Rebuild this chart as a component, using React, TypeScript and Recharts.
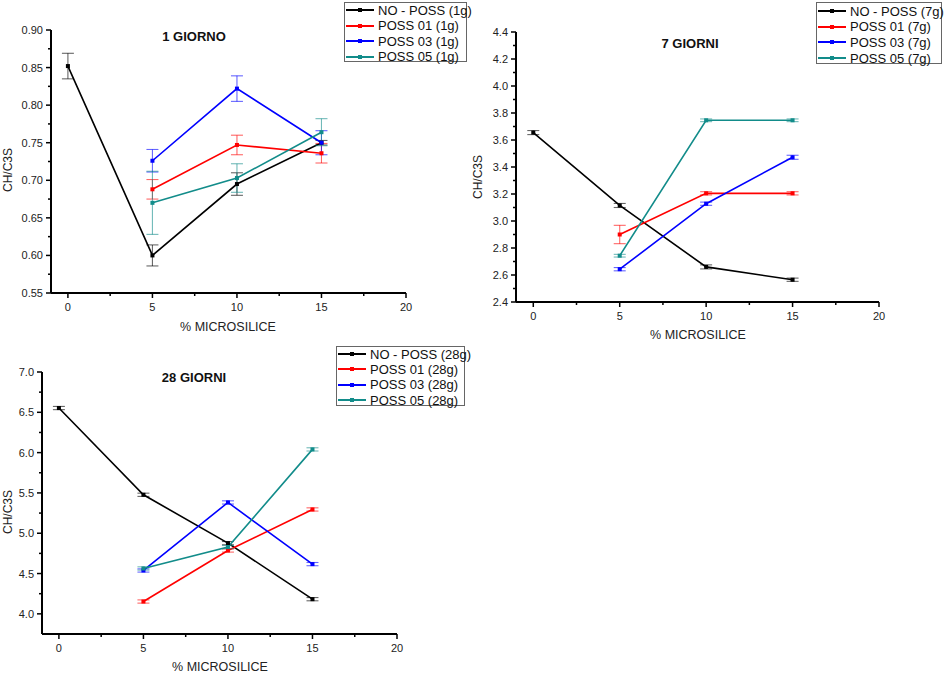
import { LineChart, Line, XAxis, YAxis, ErrorBar } from 'recharts'

const FONT = '"Liberation Sans", Arial, sans-serif'

// asse x comune
const xNoPoss = [0, 5, 10, 15]
const xPoss = [5, 10, 15]
const xTicks = [0, 5, 10, 15, 20]
const xMinorTicks = [2.5, 7.5, 12.5, 17.5]

const seriesNames = ['NO - POSS', 'POSS 01', 'POSS 03', 'POSS 05']
const seriesColors = ['#000000', '#ff0000', '#0000ff', '#128c8a']

// 1 giorno
const g1NoPoss = [0.852, 0.600, 0.695, 0.750]
const g1NoPossErr = [0.017, 0.014, 0.015, 0.003]
const g1Poss01 = [0.688, 0.747, 0.736]
const g1Poss01Err = [0.013, 0.013, 0.013]
const g1Poss03 = [0.726, 0.822, 0.750]
const g1Poss03Err = [0.015, 0.017, 0.016]
const g1Poss05 = [0.670, 0.703, 0.764]
const g1Poss05Err = [0.042, 0.019, 0.018]
const g1YTicks = [0.55, 0.60, 0.65, 0.70, 0.75, 0.80, 0.85, 0.90]
const g1YMinor = [0.575, 0.625, 0.675, 0.725, 0.775, 0.825, 0.875]

// 7 giorni
const g7NoPoss = [3.655, 3.115, 2.660, 2.565]
const g7NoPossErr = [0.015, 0.015, 0.015, 0.012]
const g7Poss01 = [2.900, 3.205, 3.205]
const g7Poss01Err = [0.068, 0.012, 0.012]
const g7Poss03 = [2.643, 3.128, 3.472]
const g7Poss03Err = [0.012, 0.012, 0.015]
const g7Poss05 = [2.743, 3.746, 3.746]
const g7Poss05Err = [0.010, 0.010, 0.010]
const g7YTicks = [2.4, 2.6, 2.8, 3.0, 3.2, 3.4, 3.6, 3.8, 4.0, 4.2, 4.4]
const g7YMinor = [2.5, 2.7, 2.9, 3.1, 3.3, 3.5, 3.7, 3.9, 4.1, 4.3]

// 28 giorni
const g28NoPoss = [6.553, 5.477, 4.877, 4.182]
const g28NoPossErr = [0.02, 0.02, 0.02, 0.02]
const g28Poss01 = [4.153, 4.786, 5.295]
const g28Poss01Err = [0.02, 0.02, 0.02]
const g28Poss03 = [4.538, 5.382, 4.617]
const g28Poss03Err = [0.02, 0.02, 0.02]
const g28Poss05 = [4.563, 4.828, 6.040]
const g28Poss05Err = [0.02, 0.02, 0.02]
const g28YTicks = [4.0, 4.5, 5.0, 5.5, 6.0, 6.5, 7.0]
const g28YMinor = [4.25, 4.75, 5.25, 5.75, 6.25, 6.75]

const toPoints = (xs: number[], ys: number[], es: number[]) =>
    xs.map((x, i) => ({ x, y: ys[i], e: es[i] }))

const panels = [
    {
        suffix: '1g', title: '1 GIORNO',
        left: 0, top: 0, width: 470, height: 340,
        yAxisWidth: 51, marginTop: 30, marginRight: 64, xAxisHeight: 47,
        yDomain: [0.55, 0.90], yTicks: g1YTicks, yMinor: g1YMinor, decimals: 2,
        series: [
            toPoints(xNoPoss, g1NoPoss, g1NoPossErr),
            toPoints(xPoss, g1Poss01, g1Poss01Err),
            toPoints(xPoss, g1Poss03, g1Poss03Err),
            toPoints(xPoss, g1Poss05, g1Poss05Err),
        ],
        titlePos: [194, 36], xLabelPos: [228, 327], yLabelPos: [8, 170],
        legend: { left: 344, top: 2, width: 123, height: 60, first: 7, step: 15.5 },
    },
    {
        suffix: '7g', title: '7 GIORNI',
        left: 470, top: 0, width: 474, height: 345,
        yAxisWidth: 46, marginTop: 32, marginRight: 65, xAxisHeight: 43,
        yDomain: [2.4, 4.4], yTicks: g7YTicks, yMinor: g7YMinor, decimals: 1,
        series: [
            toPoints(xNoPoss, g7NoPoss, g7NoPossErr),
            toPoints(xPoss, g7Poss01, g7Poss01Err),
            toPoints(xPoss, g7Poss03, g7Poss03Err),
            toPoints(xPoss, g7Poss05, g7Poss05Err),
        ],
        titlePos: [690, 43], xLabelPos: [698, 335], yLabelPos: [478, 177],
        legend: { left: 816, top: 2, width: 126, height: 62, first: 8, step: 15.7 },
    },
    {
        suffix: '28g', title: '28 GIORNI',
        left: 0, top: 340, width: 480, height: 337,
        yAxisWidth: 42, marginTop: 32, marginRight: 83, xAxisHeight: 43,
        yDomain: [3.75, 7.0], yTicks: g28YTicks, yMinor: g28YMinor, decimals: 1,
        series: [
            toPoints(xNoPoss, g28NoPoss, g28NoPossErr),
            toPoints(xPoss, g28Poss01, g28Poss01Err),
            toPoints(xPoss, g28Poss03, g28Poss03Err),
            toPoints(xPoss, g28Poss05, g28Poss05Err),
        ],
        titlePos: [194, 377], xLabelPos: [220, 667], yLabelPos: [8, 512],
        legend: { left: 336, top: 346, width: 129, height: 60, first: 7, step: 15.4 },
    },
]

const XTick = (props: any) => {
    const { x, y, payload } = props
    const major = xTicks.includes(payload.value)
    return (
        <g>
            <line x1={x} x2={x} y1={y} y2={y + (major ? 5 : 3)} stroke="#000" strokeWidth={1.5} />
            {major && (
                <text x={x} y={y + 18} textAnchor="middle" fontSize={11} fill="#222" fontFamily={FONT}>
                    {payload.value}
                </text>
            )}
        </g>
    )
}

const makeYTick = (majors: number[], decimals: number) => (props: any) => {
    const { x, y, payload } = props
    const major = majors.includes(payload.value)
    return (
        <g>
            <line x1={x} x2={x - (major ? 5 : 3)} y1={y} y2={y} stroke="#000" strokeWidth={1.5} />
            {major && (
                <text x={x - 8} y={y + 4} textAnchor="end" fontSize={11} fill="#222" fontFamily={FONT}>
                    {payload.value.toFixed(decimals)}
                </text>
            )}
        </g>
    )
}

const squareDot = (color: string) => (p: any) => (
    <rect key={`d-${p.index}`} x={p.cx - 2} y={p.cy - 2} width={4} height={4} fill={color} />
)

function Panel({ cfg }: { cfg: any }) {
    const yTicksAll = [...cfg.yTicks, ...cfg.yMinor].sort((a, b) => a - b)
    const xTicksAll = [...xTicks, ...xMinorTicks].sort((a, b) => a - b)
    return (
        <>
            <div style={{ position: 'absolute', left: cfg.left, top: cfg.top }}>
                <LineChart
                    width={cfg.width}
                    height={cfg.height}
                    margin={{ top: cfg.marginTop, right: cfg.marginRight, bottom: 0, left: 0 }}
                >
                    <XAxis
                        dataKey="x"
                        type="number"
                        domain={[-1, 20]}
                        ticks={xTicksAll}
                        interval={0}
                        tickSize={0}
                        tickMargin={0}
                        height={cfg.xAxisHeight}
                        axisLine={{ stroke: '#000', strokeWidth: 2 }}
                        tick={XTick}
                        allowDataOverflow
                    />
                    <YAxis
                        type="number"
                        domain={cfg.yDomain}
                        ticks={yTicksAll}
                        interval={0}
                        tickSize={0}
                        tickMargin={0}
                        width={cfg.yAxisWidth}
                        axisLine={{ stroke: '#000', strokeWidth: 2 }}
                        tick={makeYTick(cfg.yTicks, cfg.decimals)}
                        allowDataOverflow
                    />
                    {cfg.series.map((pts: any[], i: number) => (
                        <Line
                            key={i}
                            data={pts}
                            dataKey="y"
                            stroke={seriesColors[i]}
                            strokeWidth={1.6}
                            dot={squareDot(seriesColors[i])}
                            activeDot={false}
                            isAnimationActive={false}
                        >
                            <ErrorBar dataKey="e" width={6} stroke={seriesColors[i]} strokeOpacity={0.6} strokeWidth={1.1} />
                        </Line>
                    ))}
                </LineChart>
            </div>
            <div
                style={{
                    position: 'absolute', left: cfg.titlePos[0], top: cfg.titlePos[1],
                    transform: 'translate(-50%, -50%)', fontWeight: 'bold', fontSize: 13, whiteSpace: 'nowrap', color: '#111',
                }}
            >
                {cfg.title}
            </div>
            <div
                style={{
                    position: 'absolute', left: cfg.xLabelPos[0], top: cfg.xLabelPos[1],
                    transform: 'translate(-50%, -50%)', fontSize: 12.5, whiteSpace: 'nowrap', color: '#222',
                }}
            >
                % MICROSILICE
            </div>
            <div
                style={{
                    position: 'absolute', left: cfg.yLabelPos[0], top: cfg.yLabelPos[1],
                    transform: 'translate(-50%, -50%) rotate(-90deg)', fontSize: 12, whiteSpace: 'nowrap', color: '#222',
                }}
            >
                CH/C3S
            </div>
            {/* legenda */}
            <div
                style={{
                    position: 'absolute', left: cfg.legend.left, top: cfg.legend.top,
                    width: cfg.legend.width, height: cfg.legend.height,
                    border: '1px solid #666', boxSizing: 'border-box', background: '#fff',
                }}
            >
                {seriesNames.map((name, i) => (
                    <div
                        key={name}
                        style={{
                            position: 'absolute', left: 1, top: cfg.legend.first + i * cfg.legend.step - 7,
                            height: 14, display: 'flex', alignItems: 'center', whiteSpace: 'nowrap',
                        }}
                    >
                        <svg width={28} height={8}>
                            <line x1={0} x2={28} y1={4} y2={4} stroke={seriesColors[i]} strokeWidth={2} />
                            <rect x={12} y={2} width={4} height={4} fill={seriesColors[i]} />
                        </svg>
                        <span style={{ marginLeft: 4, fontSize: 13, color: '#111' }}>
                            {`${name} (${cfg.suffix})`}
                        </span>
                    </div>
                ))}
            </div>
        </>
    )
}

export default function App() {
    return (
        <div
            style={{
                position: 'absolute', left: 0, top: 0, width: 944, height: 677,
                background: '#fff', fontFamily: FONT, overflow: 'hidden',
            }}
        >
            {panels.map((cfg) => (
                <Panel key={cfg.suffix} cfg={cfg} />
            ))}
        </div>
    )
}
